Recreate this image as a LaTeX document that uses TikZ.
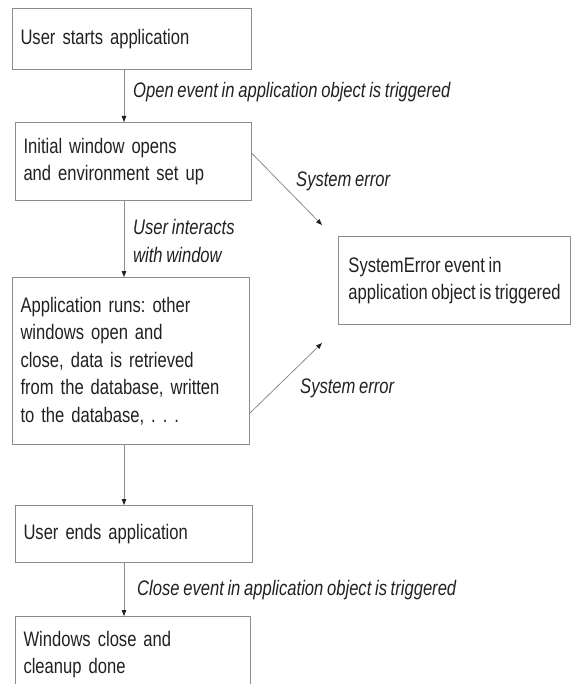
\documentclass[tikz,border=0pt]{standalone}
\usepackage{fontspec}
\setmainfont[FakeStretch=0.79,WordSpace=0.8]{Liberation Sans}
\usetikzlibrary{arrows.meta}
\definecolor{boxline}{gray}{0.55}
\definecolor{ink}{gray}{0.13}
\hyphenpenalty=10000
\frenchspacing
\begin{document}
\begin{tikzpicture}[
    x=1pt,y=-1pt,
    font=\fontsize{21}{27.5}\selectfont,
    text=ink,
    stage/.style={draw=boxline,line width=1pt,anchor=north west,inner xsep=8pt,align=left},
    lbl/.style={anchor=base west,font=\fontsize{21}{27.5}\selectfont\itshape,inner sep=0pt},
    arrow/.style={draw=boxline,line width=0.8pt,-{Triangle[length=6pt,width=4.5pt,color=ink]}}
]

\useasboundingbox (0,0) rectangle (572,684);

\node[stage,minimum width=239pt,minimum height=61pt,text width=223pt] (B1) at (12,8) {User starts application};
\node[stage,minimum width=236pt,minimum height=78pt,text width=220pt] (B2) at (15,122) {Initial window opens\\and environment set up};
\node[stage,minimum width=237pt,minimum height=167pt,text width=221pt] (B3) at (12,277) {Application runs: other\\windows open and\\close, data is retrieved\\from the database, written\\to the database, . . .};
\node[stage,minimum width=237pt,minimum height=57pt,text width=221pt] (B4) at (15,505) {User ends application};
\node[stage,minimum width=235pt,minimum height=76pt,text width=219pt] (B5) at (15,616) {Windows close and\\cleanup done};
\node[stage,inner xsep=3pt,minimum width=232pt,minimum height=88pt] (E) at (338,236) {SystemError event in\\application object is triggered};

\coordinate (spine) at (124,0);
\coordinate (T1) at (322,225);
\coordinate (T2) at (322,343);

\draw[arrow] (B1.south -| spine) -- (B2.north -| spine);
\draw[arrow] (B2.south -| spine) -- (B3.north -| spine);
\draw[arrow] (B3.south -| spine) -- (B4.north -| spine);
\draw[arrow] (B4.south -| spine) -- (B5.north -| spine);
\draw[arrow] ([yshift=8pt]B2.east) -- (T1);
\draw[arrow] ([yshift=-52pt]B3.east) -- (T2);

\node[lbl] (L1) at (133,98) {Open event in application object is triggered};
\node[lbl,align=left] (L2) at (133,262) {User interacts\\with window};
\node[lbl] (L3) at (296,187) {System error};
\node[lbl] (L4) at (300,393) {System error};
\node[lbl] (L5) at (137,595) {Close event in application object is triggered};

\end{tikzpicture}
\end{document}
